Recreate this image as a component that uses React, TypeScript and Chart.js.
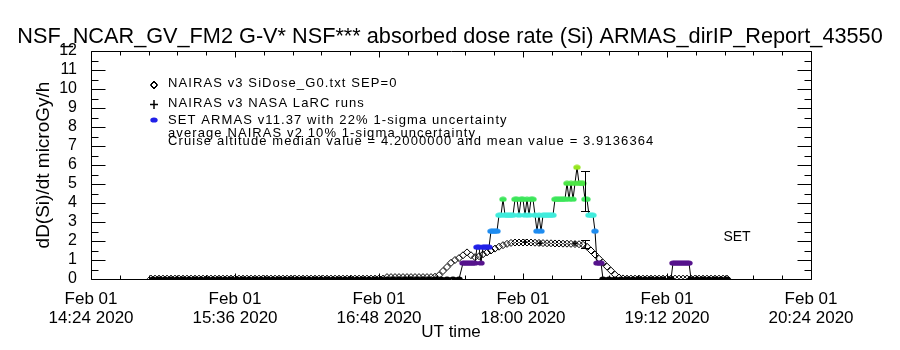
import React, { useEffect, useRef } from "react";
import { Chart, registerables } from "chart.js";
Chart.register(...registerables);

// ---------- text ----------
const titleText = "NSF_NCAR_GV_FM2 G-V* NSF*** absorbed dose rate (Si) ARMAS_dirIP_Report_43550";
const yTitle = "dD(Si)/dt microGy/h";
const xTitle = "UT time";
const xTickMinutes = [0, 72, 144, 216, 288, 360]; // minutes after 14:24 UT
const xTickDates = ["Feb 01", "Feb 01", "Feb 01", "Feb 01", "Feb 01", "Feb 01"];
const xTickTimes = ["14:24 2020", "15:36 2020", "16:48 2020", "18:00 2020", "19:12 2020", "20:24 2020"];
const legendLabels = [
  "NAIRAS v3 SiDose_G0.txt SEP=0",
  "NAIRAS v3 NASA LaRC runs",
  "SET ARMAS v11.37 with 22% 1-sigma uncertainty",
];
const noteLines = [
  "average NAIRAS v2 10% 1-sigma uncertainty",
  "Cruise altitude median value = 4.2000000 and mean value = 3.9136364",
];
const setLabel = "SET";

// ---------- data (x = minutes after 14:24 UT, y = microGy/h) ----------
const nairasMin = [
  30, 32, 34, 36, 38, 40, 42, 44, 46, 48, 50, 52, 54, 56, 58, 60, 62, 64, 66, 68,
  70, 72, 74, 76, 78, 80, 82, 84, 86, 88, 90, 92, 94, 96, 98, 100, 102, 104, 106, 108,
  110, 112, 114, 116, 118, 120, 122, 124, 126, 128, 130, 132, 134, 136, 138, 140, 142, 144, 146,
  148, 150, 152, 154, 156, 158, 160, 162, 164, 166, 168, 170,
  172, 174, 176, 178, 180, 182, 184, 186, 188, 190, 192, 194, 196, 198, 200, 202, 204, 206, 208, 210,
  212, 214, 216, 218, 220, 222, 224, 226, 228, 230, 232, 234, 236, 238, 240, 242, 244, 246, 248, 250,
  252, 254, 256, 258, 260, 262, 264, 266,
  268, 270, 272, 274, 276, 278, 280, 282, 284, 286, 288, 290, 292, 294, 296, 298, 300, 302, 304, 306,
  308, 310, 312, 314, 316, 318,
];
const nairasDose = [
  0.02, 0.02, 0.02, 0.02, 0.02, 0.02, 0.02, 0.02, 0.02, 0.02, 0.02, 0.02, 0.02, 0.02, 0.02, 0.02, 0.02, 0.02, 0.02, 0.02,
  0.02, 0.02, 0.02, 0.02, 0.02, 0.02, 0.02, 0.02, 0.02, 0.02, 0.02, 0.02, 0.02, 0.02, 0.02, 0.02, 0.02, 0.02, 0.02, 0.02,
  0.02, 0.02, 0.02, 0.02, 0.02, 0.02, 0.02, 0.02, 0.02, 0.02, 0.02, 0.02, 0.02, 0.02, 0.02, 0.02, 0.02, 0.02, 0.02,
  0.1, 0.1, 0.1, 0.1, 0.1, 0.1, 0.1, 0.1, 0.1, 0.1, 0.1, 0.1,
  0.12, 0.2, 0.42, 0.63, 0.85, 1.0, 1.1, 1.25, 1.4, 1.25, 1.15, 1.2, 1.3, 1.4, 1.5, 1.6, 1.7, 1.78, 1.85, 1.9,
  1.92, 1.92, 1.92, 1.92, 1.92, 1.91, 1.9, 1.89, 1.88, 1.88, 1.87, 1.87, 1.86, 1.86, 1.85, 1.84, 1.83, 1.8, 1.7, 1.5,
  1.29, 1.07, 0.86, 0.65, 0.44, 0.23, 0.08, 0.03,
  0.02, 0.02, 0.02, 0.02, 0.02, 0.02, 0.02, 0.02, 0.02, 0.02, 0.02, 0.02, 0.02, 0.02, 0.02, 0.02, 0.02, 0.02, 0.02, 0.02,
  0.02, 0.02, 0.02, 0.02, 0.02, 0.02,
];

const larcMin = [217, 224.5, 242];
const larcDose = [1.95, 1.88, 1.87];

const armasMin = [
  31, 34, 37, 40, 43, 46, 49, 52, 55, 58, 61, 64, 67, 70, 73, 76, 79, 82, 85, 88,
  91, 94, 97, 100, 103, 106, 109, 112, 115, 118, 121, 124, 127, 130, 133, 136, 139, 142, 145, 148,
  151, 154, 157, 160, 163, 166, 169, 172, 175, 178, 181, 184,
  186, 187, 188, 189, 190, 191, 192, 193, 194, 195, 196, 197, 198, 199, 200, 201, 202, 203, 204, 205,
  206, 207, 208, 209, 210, 211, 212, 213, 214, 215, 216, 217, 218, 219, 220, 221, 222, 223, 224, 225,
  226, 227, 228, 229, 230, 231, 232, 233, 234, 235, 236, 237, 238, 239, 240, 241, 242, 243, 244, 245,
  246, 247, 248, 249, 250, 251, 252, 253, 254, 255, 256,
  259, 262, 265, 268, 271, 274, 277, 280, 283, 286, 290,
  291, 292, 293, 294, 295, 296, 297, 298, 299,
  300, 303, 306, 309, 312, 315, 318,
];
const armasDose = [
  0, 0, 0, 0, 0, 0, 0, 0, 0, 0, 0, 0, 0, 0, 0, 0, 0, 0, 0, 0,
  0, 0, 0, 0, 0, 0, 0, 0, 0, 0, 0, 0, 0, 0, 0, 0, 0, 0, 0, 0,
  0, 0, 0, 0, 0, 0, 0, 0, 0, 0, 0, 0,
  0.84, 0.84, 0.84, 0.84, 0.84, 0.84, 0.84, 1.68, 1.68, 0.84, 1.68, 1.68, 1.68, 1.68, 2.52, 2.52, 2.52, 2.52, 3.36, 3.36,
  4.2, 3.36, 3.36, 3.36, 3.36, 3.36, 4.2, 4.2, 3.36, 4.2, 4.2, 3.36, 4.2, 3.36, 4.2, 4.2, 3.36, 2.52, 3.36, 2.52,
  3.36, 3.36, 3.36, 3.36, 3.36, 3.36, 4.2, 4.2, 4.2, 4.2, 4.2, 4.2, 5.04, 4.2, 5.04, 4.2, 5.04, 5.88, 5.04, 5.04,
  5.04, 4.2, 4.2, 3.36, 3.36, 3.36, 2.52, 0.84, 0.84, 0.84, 0,
  0, 0, 0, 0, 0, 0, 0, 0, 0, 0, 0,
  0.84, 0.84, 0.84, 0.84, 0.84, 0.84, 0.84, 0.84, 0.84,
  0, 0, 0, 0, 0, 0, 0,
];

// error bars: ARMAS 22% and NAIRAS 10%
const errMin = [246.75, 246.75];
const errLow = [3.58, 1.64];
const errHigh = [5.66, 2.03];

// ---------- style ----------
const FONT = "'Liberation Sans', 'DejaVu Sans', sans-serif";
const levelStep = 0.84;
const levelColors = ["#000000", "#55128c", "#2020e8", "#1e8cf0", "#40ecdc", "#3ce65a", "#4ce646", "#96e61e"];
const xMinorStep = 14.4;
const yMinorStep = 0.5;

function makeEllipse(color: string) {
  const c = document.createElement("canvas");
  c.width = 8;
  c.height = 6;
  const g = c.getContext("2d")!;
  g.fillStyle = color;
  g.beginPath();
  g.ellipse(4, 3, 3.7, 2.6, 0, 0, Math.PI * 2);
  g.fill();
  return c;
}

export default function App() {
  const ref = useRef<HTMLCanvasElement | null>(null);

  useEffect(() => {
    const canvas = ref.current;
    if (!canvas) return;
    const ellipses = levelColors.map(makeEllipse);
    const levelIndex = (v: number) =>
      Math.max(0, Math.min(levelColors.length - 1, Math.round(v / levelStep)));

    const framePlugin = {
      id: "idlFrame",
      afterDatasetsDraw(chart: any) {
        const { ctx, chartArea: a, scales } = chart;
        const xs = scales.x;
        const ys = scales.y;
        ctx.save();
        ctx.strokeStyle = "#000";
        ctx.fillStyle = "#000";
        ctx.lineWidth = 1;
        const L = Math.round(a.left) + 0.5;
        const R = Math.round(a.right) + 0.5;
        const T = Math.round(a.top) + 0.5;
        const B = Math.round(a.bottom) + 0.5;
        ctx.beginPath();
        ctx.rect(L, T, R - L, B - T);
        const xMax = xs.max;
        for (let i = 0; i * xMinorStep <= xMax + 1e-6; i++) {
          const px = Math.round(xs.getPixelForValue(i * xMinorStep)) + 0.5;
          const len = i % 5 === 0 ? 6 : 4;
          ctx.moveTo(px, B);
          ctx.lineTo(px, B - len);
          ctx.moveTo(px, T);
          ctx.lineTo(px, T + len);
        }
        for (let i = 0; i * yMinorStep <= ys.max + 1e-6; i++) {
          const py = Math.round(ys.getPixelForValue(i * yMinorStep)) + 0.5;
          const len = i % 2 === 0 ? 14 : 7;
          ctx.moveTo(L, py);
          ctx.lineTo(L + len, py);
          ctx.moveTo(R, py);
          ctx.lineTo(R - len, py);
        }
        ctx.stroke();

        // error bars
        ctx.beginPath();
        for (let i = 0; i < errMin.length; i++) {
          const px = Math.round(xs.getPixelForValue(errMin[i])) + 0.5;
          const y1 = Math.round(ys.getPixelForValue(errLow[i])) + 0.5;
          const y2 = Math.round(ys.getPixelForValue(errHigh[i])) + 0.5;
          ctx.moveTo(px, y1);
          ctx.lineTo(px, y2);
          ctx.moveTo(px - 4.5, y1);
          ctx.lineTo(px + 4.5, y1);
          ctx.moveTo(px - 4.5, y2);
          ctx.lineTo(px + 4.5, y2);
        }
        ctx.stroke();

        // legend symbols
        const sx = 154;
        ctx.beginPath();
        for (const d of [0, 1]) {
          const cy = 84.5;
          ctx.moveTo(sx, cy - 3.5 + d);
          ctx.lineTo(sx + 3.5, cy + d);
          ctx.lineTo(sx, cy + 3.5 + d);
          ctx.lineTo(sx - 3.5, cy + d);
          ctx.closePath();
        }
        ctx.stroke();
        ctx.beginPath();
        ctx.lineWidth = 1.5;
        ctx.moveTo(sx - 4, 104.5);
        ctx.lineTo(sx + 4, 104.5);
        ctx.moveTo(sx, 100);
        ctx.lineTo(sx, 109);
        ctx.stroke();
        ctx.lineWidth = 1;
        ctx.drawImage(ellipses[2], sx - 4, 120 - 3);

        // legend text
        ctx.font = "13px " + FONT;
        (ctx as any).letterSpacing = "1.1px";
        ctx.textAlign = "left";
        ctx.textBaseline = "middle";
        const tx = 168;
        ctx.fillText(legendLabels[0], tx, 83);
        ctx.fillText(legendLabels[1], tx, 103);
        ctx.fillText(legendLabels[2], tx, 120);
        ctx.fillText(noteLines[0], tx, 133.5);
        ctx.fillText(noteLines[1], tx, 141);

        ctx.font = "14px " + FONT;
        (ctx as any).letterSpacing = "0px";
        ctx.textAlign = "center";
        ctx.fillText(setLabel, 737, 237);
        ctx.restore();
      },
    };

    const chart = new Chart(canvas, {
      type: "line",
      data: {
        datasets: [
          {
            label: "ARMAS",
            data: armasMin.map((x, i) => ({ x, y: armasDose[i] })),
            borderColor: "#000",
            borderWidth: 1,
            tension: 0,
            pointRadius: 4,
            pointStyle: (c: any) => ellipses[levelIndex(c.raw ? c.raw.y : 0)],
          },
          {
            label: "LaRC",
            data: larcMin.map((x, i) => ({ x, y: larcDose[i] })),
            showLine: false,
            pointStyle: "cross",
            pointRadius: 2.5,
            borderColor: "#000",
            borderWidth: 1.5,
          },
          {
            label: "NAIRAS",
            data: nairasMin.map((x, i) => ({ x, y: nairasDose[i] })),
            showLine: false,
            pointStyle: "rectRot",
            pointRadius: 3.5,
            borderColor: "#000",
            borderWidth: 1,
            backgroundColor: "rgba(0,0,0,0)",
          },
        ] as any,
      },
      options: {
        animation: false,
        responsive: false,
        maintainAspectRatio: false,
        layout: { padding: 0 },
        plugins: {
          legend: { display: false },
          tooltip: { enabled: false },
          title: {
            display: true,
            text: titleText,
            color: "#000",
            font: { family: FONT, size: 21.7, weight: "normal" },
            padding: { top: 24, bottom: 1 },
          },
        },
        scales: {
          x: {
            type: "linear",
            min: 0,
            max: 360,
            afterFit: (s: any) => {
              s.height = 71;
            },
            grid: { display: false },
            border: { display: false },
            ticks: {
              stepSize: 72,
              autoSkip: false,
              maxRotation: 0,
              padding: 3,
              color: "#000",
              font: { family: FONT, size: 17, lineHeight: 1.1 },
              callback: (v: any) => {
                const i = xTickMinutes.indexOf(Number(v));
                return i >= 0 ? [xTickDates[i], xTickTimes[i]] : "";
              },
            },
            title: {
              display: true,
              text: xTitle,
              color: "#000",
              font: { family: FONT, size: 17 },
              padding: { top: 0, bottom: 7 },
            },
          },
          y: {
            min: 0,
            max: 12,
            afterFit: (s: any) => {
              s.width = 91;
            },
            grid: { display: false },
            border: { display: false },
            ticks: {
              stepSize: 1,
              autoSkip: false,
              padding: 6,
              color: "#000",
              font: { family: FONT, size: 16 },
            },
            title: {
              display: true,
              text: yTitle,
              color: "#000",
              font: { family: FONT, size: 19 },
              padding: { top: 32.5, bottom: 0 },
            },
          },
          y2: {
            position: "right",
            min: 0,
            max: 12,
            afterFit: (s: any) => {
              s.width = 89;
            },
            grid: { display: false },
            border: { display: false },
            ticks: { display: false },
          },
        },
      } as any,
      plugins: [framePlugin],
    });
    return () => chart.destroy();
  }, []);

  return (
    <div style={{ position: "fixed", left: 0, top: 0, width: 900, height: 350, background: "#fff" }}>
      <canvas ref={ref} width={900} height={350} style={{ display: "block" }} />
    </div>
  );
}
